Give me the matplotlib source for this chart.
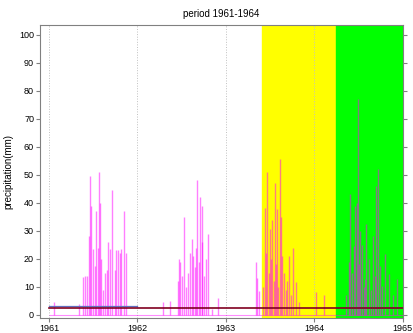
import matplotlib
matplotlib.use('Agg')
import matplotlib.pyplot as plt

plt.rcParams['font.family'] = ['Liberation Sans', 'DejaVu Sans']

# rain days (decimal year) and daily precipitation in mm
days_1961 = [1961.053, 1961.335, 1961.383, 1961.410, 1961.428, 1961.451, 1961.467, 1961.476,
             1961.497, 1961.516, 1961.534, 1961.557, 1961.566, 1961.572, 1961.591, 1961.609,
             1961.636, 1961.654, 1961.668, 1961.684, 1961.710, 1961.741, 1961.760, 1961.778,
             1961.800, 1961.816, 1961.842, 1961.865]
rain_1961 = [4.5, 4.0, 13.5, 14.0, 14.0, 28.0, 49.6, 39.0, 23.5, 17.5, 37.0, 24.0, 51.0, 40.0,
             20.0, 9.0, 15.0, 16.0, 26.0, 23.5, 44.6, 16.0, 23.0, 23.0, 22.0, 23.5, 37.0, 22.0]

days_1962 = [1962.285, 1962.369, 1962.454, 1962.466, 1962.481, 1962.504, 1962.530, 1962.550,
             1962.567, 1962.590, 1962.612, 1962.631, 1962.650, 1962.662, 1962.673, 1962.691,
             1962.710, 1962.729, 1962.736, 1962.755, 1962.775, 1962.793, 1962.849, 1962.917]
rain_1962 = [4.6, 5.0, 12.0, 20.0, 19.0, 14.0, 35.0, 10.0, 15.0, 22.0, 27.0, 21.0, 17.0, 24.0,
             48.0, 19.0, 42.0, 39.0, 26.0, 14.0, 20.0, 29.0, 2.0, 6.0]

days_1963 = [1963.338, 1963.355, 1963.375, 1963.420, 1963.440, 1963.455, 1963.469, 1963.485,
             1963.496, 1963.507, 1963.525, 1963.540, 1963.556, 1963.570, 1963.582, 1963.596,
             1963.609, 1963.623, 1963.638, 1963.661, 1963.676, 1963.695, 1963.714, 1963.740,
             1963.762, 1963.789, 1963.826, 1964.026, 1964.108]
rain_1963 = [19.0, 13.0, 8.7, 10.0, 38.0, 22.0, 51.0, 15.0, 30.6, 20.0, 34.0, 12.0, 47.0, 18.0,
             37.7, 10.0, 55.8, 35.0, 21.0, 15.0, 9.0, 12.0, 21.0, 7.0, 24.0, 11.7, 4.6, 8.0, 7.0]

days_1964 = [1964.360, 1964.390, 1964.409, 1964.430, 1964.446, 1964.466, 1964.484, 1964.495,
             1964.510, 1964.522, 1964.540, 1964.560, 1964.578, 1964.585, 1964.615, 1964.640,
             1964.664, 1964.685, 1964.702, 1964.720, 1964.747, 1964.765, 1964.804, 1964.849,
             1964.897, 1964.943]
rain_1964 = [7.0, 19.0, 43.0, 15.0, 24.7, 39.0, 40.0, 76.9, 18.0, 30.0, 25.0, 10.0, 12.8, 32.4,
             20.0, 9.0, 28.0, 14.0, 46.0, 52.0, 17.5, 10.4, 21.7, 14.6, 7.0, 12.8]

mean_all = 2.6   # dark red line
mean_1961 = 3.2  # blue line
years = [1961, 1962, 1963, 1964, 1965]
wet_span = (1963.41, 1964.25)
dry_span = (1964.25, 1965.0)

fig = plt.figure(figsize=(4.14, 3.33), dpi=100)
ax = fig.add_axes([0.0973, 0.046, 0.875, 0.879])

ax.axvspan(*wet_span, color='#ffff00', zorder=0)
ax.axvspan(*dry_span, color='#00ff00', zorder=0)

for x in years[:-1]:
    ax.axvline(x, color='#c0c0c0', linestyle=':', linewidth=0.7, zorder=0.5)

spike_color = '#ff00ff'
ax.hlines(0, 1961, 1965, color=spike_color, alpha=0.45, linewidth=0.8)
for d, r in [(days_1961, rain_1961), (days_1962, rain_1962),
             (days_1963, rain_1963), (days_1964, rain_1964)]:
    ax.vlines(d, 0, r, color=spike_color, alpha=0.5, linewidth=1.0)

ax.plot([1961, 1962], [mean_1961, mean_1961], color='#6070c0', linewidth=0.9)
ax.plot([1961, 1965], [mean_all, mean_all], color='#800020', linewidth=1.2)

ax.set_xlim(1960.9, 1965.0)
ax.set_ylim(-1, 103.5)
ax.set_xticks(years)
ax.set_xticklabels([str(y) for y in years])
ax.set_yticks(range(0, 101, 10))
ax.tick_params(labelsize=6.5, length=3, color='#808080', right=True, pad=1.5)
for s in ax.spines.values():
    s.set_color('#808080')

ax.set_title('period 1961-1964', fontsize=7, pad=6)
ax.set_ylabel('precipitation(mm)', fontsize=7, labelpad=4)

fig.savefig('out.png', dpi=100)
